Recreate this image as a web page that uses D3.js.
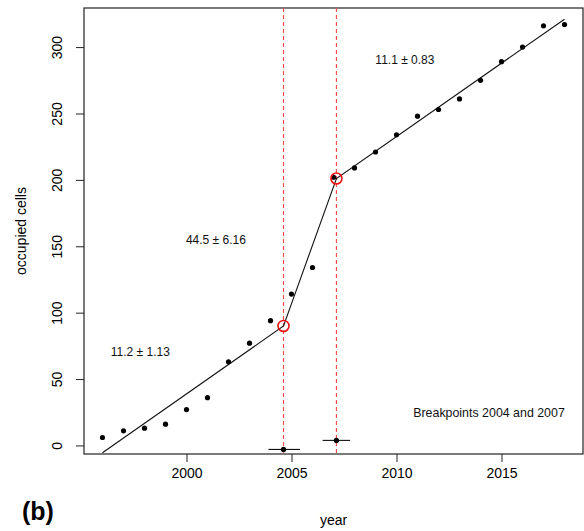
<!DOCTYPE html>
<html>
<head>
<meta charset="utf-8">
<script src="https://cdn.jsdelivr.net/npm/d3@7"></script>
<style>
  body { margin: 0; background: #fff; }
  svg { display: block; font-family: "Liberation Sans", Arial, sans-serif; }
</style>
</head>
<body>
<div id="chart"></div>
<script>
// ---- data ----
const years = [1996, 1997, 1998, 1999, 2000, 2001, 2002, 2003, 2004, 2005, 2006,
               2007, 2008, 2009, 2010, 2011, 2012, 2013, 2014, 2015, 2016, 2017, 2018];
const cells = [6, 11, 13, 16, 27, 36, 63, 77, 94, 114, 134,
               202, 209, 221, 234, 248, 253, 261, 275, 289, 300, 316, 317];

// segmented fit (knots of the broken line)
const fitX = [1996, 2004.62, 2007.14, 2018];
const fitY = [-5.5, 90, 201, 321];

// breakpoint estimates with confidence intervals
const breakX = [2004.62, 2007.14];
const breakLo = [2003.9, 2006.48];
const breakHi = [2005.4, 2007.79];
const breakMarkY = [-3, 3.8];

const slopeLabels = ["11.2 \u00b1 1.13", "44.5 \u00b1 6.16", "11.1 \u00b1 0.83"];
const slopeLabelX = [1997.8, 2001.4, 2010.4];
const slopeLabelY = [70, 155, 290];

const xTicks = [2000, 2005, 2010, 2015];
const yTicks = [0, 50, 100, 150, 200, 250, 300];

// ---- layout ----
const width = 584, height = 531;
const mLeft = 84, mRight = 583, mTop = 8, mBottom = 454;

const svg = d3.select("#chart").append("svg")
    .attr("width", width)
    .attr("height", height);

const x = d3.scaleLinear().domain([1995.12, 2018.88]).range([mLeft, mRight]);
const y = d3.scaleLinear().domain([-6.44, 329.44]).range([mBottom, mTop]);

// axes
const xAxis = svg.append("g")
    .attr("transform", `translate(0,${mBottom})`)
    .call(d3.axisBottom(x).tickValues(xTicks).tickFormat(d3.format("d")).tickSize(8).tickPadding(6));
xAxis.select(".domain").remove();
xAxis.selectAll("text").attr("font-size", 14).attr("font-family", "Liberation Sans, Arial, sans-serif");
xAxis.selectAll("line").attr("stroke", "#222");

const yAxis = svg.append("g")
    .attr("transform", `translate(${mLeft},0)`)
    .call(d3.axisLeft(y).tickValues(yTicks).tickSize(8).tickPadding(6));
yAxis.select(".domain").remove();
yAxis.selectAll("line").attr("stroke", "#222");
yAxis.selectAll("text")
    .attr("font-size", 14)
    .attr("font-family", "Liberation Sans, Arial, sans-serif")
    .attr("text-anchor", "middle")
    .attr("dy", null)
    .attr("x", null)
    .attr("transform", "translate(-27,0) rotate(-90)")
    .attr("y", 0)
    .attr("dominant-baseline", "central");

// plot box
svg.append("rect")
    .attr("x", mLeft).attr("y", mTop)
    .attr("width", mRight - mLeft).attr("height", mBottom - mTop)
    .attr("fill", "none").attr("stroke", "#222").attr("stroke-width", 1.2);

const plot = svg.append("g");

// breakpoint lines
plot.selectAll(".bp")
    .data(breakX)
    .join("line")
    .attr("x1", d => x(d)).attr("x2", d => x(d))
    .attr("y1", mTop).attr("y2", mBottom)
    .attr("stroke", "#ff4d4d")
    .attr("stroke-width", 1.2)
    .attr("stroke-dasharray", "4,3");

// fitted broken line
plot.append("path")
    .datum(fitX.map((d, i) => [d, fitY[i]]))
    .attr("fill", "none")
    .attr("stroke", "#111")
    .attr("stroke-width", 1.1)
    .attr("d", d3.line().x(d => x(d[0])).y(d => y(d[1])));

// observations
plot.selectAll(".pt")
    .data(years)
    .join("circle")
    .attr("cx", d => x(d))
    .attr("cy", (d, i) => y(cells[i]))
    .attr("r", 2.6)
    .attr("fill", "#000");

// breakpoint circles on the fit
plot.selectAll(".knot")
    .data(breakX)
    .join("circle")
    .attr("cx", d => x(d))
    .attr("cy", (d, i) => y(fitY[i + 1]))
    .attr("r", 5.5)
    .attr("fill", "none")
    .attr("stroke", "#ee1111")
    .attr("stroke-width", 1.6);

// breakpoint CIs
plot.selectAll(".ci")
    .data(breakX)
    .join("line")
    .attr("x1", (d, i) => x(breakLo[i]))
    .attr("x2", (d, i) => x(breakHi[i]))
    .attr("y1", (d, i) => y(breakMarkY[i]))
    .attr("y2", (d, i) => y(breakMarkY[i]))
    .attr("stroke", "#111")
    .attr("stroke-width", 1.1);

plot.selectAll(".cipt")
    .data(breakX)
    .join("circle")
    .attr("cx", d => x(d))
    .attr("cy", (d, i) => y(breakMarkY[i]))
    .attr("r", 2.6)
    .attr("fill", "#000");

// slope labels
plot.selectAll(".slope")
    .data(slopeLabels)
    .join("text")
    .attr("x", (d, i) => x(slopeLabelX[i]))
    .attr("y", (d, i) => y(slopeLabelY[i]))
    .attr("text-anchor", "middle")
    .attr("dominant-baseline", "central")
    .attr("font-size", 12)
    .attr("fill", "#111")
    .text(d => d);

svg.append("text")
    .attr("x", 489).attr("y", 413)
    .attr("text-anchor", "middle")
    .attr("dominant-baseline", "central")
    .attr("font-size", 12.4)
    .attr("fill", "#111")
    .text("Breakpoints 2004 and 2007");

// axis titles
svg.append("text")
    .attr("x", (mLeft + mRight) / 2)
    .attr("y", 520)
    .attr("text-anchor", "middle")
    .attr("dominant-baseline", "central")
    .attr("font-size", 14)
    .text("year");

svg.append("text")
    .attr("transform", `translate(21,${(mTop + mBottom) / 2}) rotate(-90)`)
    .attr("text-anchor", "middle")
    .attr("dominant-baseline", "central")
    .attr("font-size", 14)
    .text("occupied cells");

svg.append("text")
    .attr("x", 22).attr("y", 511)
    .attr("dominant-baseline", "central")
    .attr("font-size", 25)
    .attr("font-weight", "bold")
    .text("(b)");
</script>
</body>
</html>
